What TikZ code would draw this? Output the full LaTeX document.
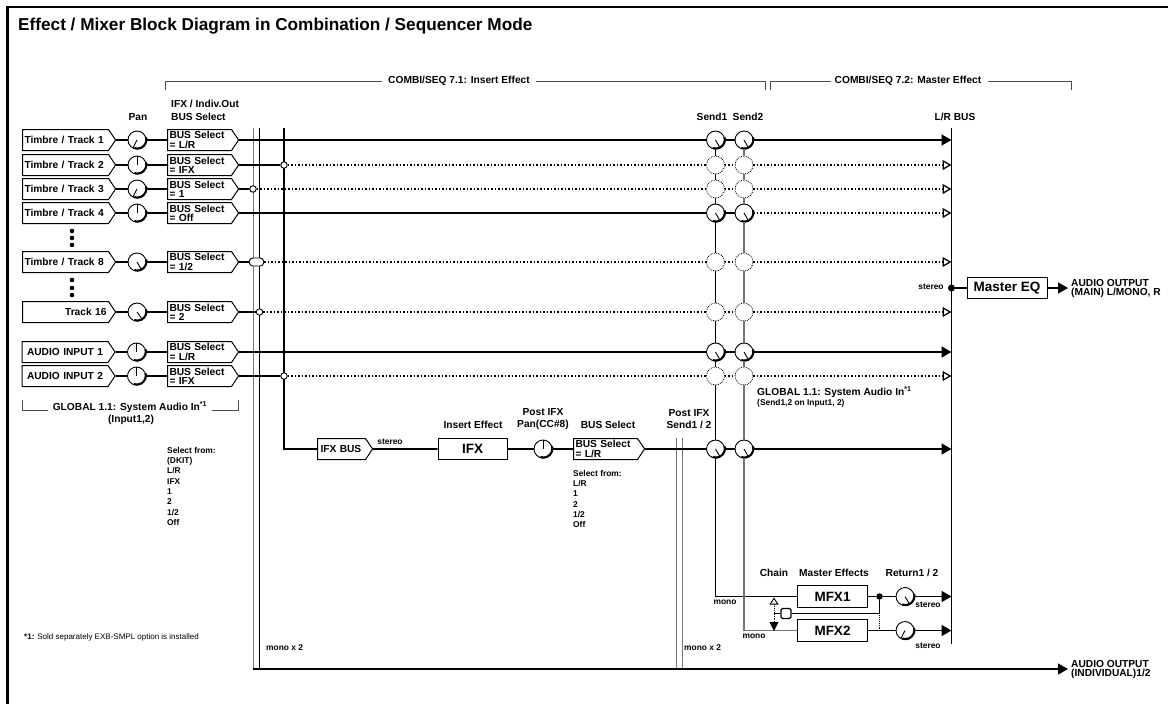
\documentclass[tikz,border=0pt]{standalone}
\usepackage{fontspec}
\setmainfont{Liberation Sans}
\usetikzlibrary{arrows.meta, positioning, shapes.symbols}

\colorlet{busgray}{black!55}
\tikzset{
  lab/.style={font=\bfseries\fontsize{10.2}{10.5}\selectfont, inner sep=0pt, align=center},
  tinylab/.style={font=\bfseries\fontsize{8.4}{10.3}\selectfont, inner sep=0pt, align=left},
  fxname/.style={font=\bfseries\fontsize{13.5}{14}\selectfont},
  sigbox/.style={draw, signal, signal to=east, signal pointer angle=112, anchor=west, minimum height=21pt, inner ysep=0pt, inner xsep=2pt, align=left, line width=1pt, font=\bfseries\fontsize{10.2}{9.2}\selectfont},
  track/.style={sigbox, text width=82pt},
  busbox/.style={sigbox, text width=60pt},
  outlab/.style={font=\bfseries\fontsize{10.2}{9}\selectfont, anchor=west, inner sep=0pt, align=left},
  fxbox/.style={draw, fxname, minimum height=21.5pt, inner sep=0pt, line width=1pt},
  knob/.style={circle, draw, fill=white, minimum size=18pt, inner sep=0pt, outer sep=0pt, line width=0.9pt},
  ghost/.style={circle, draw, fill=white, densely dotted, minimum size=18pt, inner sep=0pt, outer sep=0pt, line width=0.8pt},
  junc/.style={circle, draw, fill=white, minimum size=6.5pt, inner sep=0pt, line width=0.9pt},
  sig/.style={line width=1.6pt},
  onarrow/.style={sig, -{Triangle[length=10pt,width=11pt]}},
  offarrow/.style={line width=1.5pt, dotted, -{Triangle[open,fill=white,length=9pt,width=10pt,line width=1.3pt]}},
  offline/.style={line width=1.5pt, dotted},
  sendone/.style={line width=1.1pt},
  sendtwo/.style={line width=1.4pt, busgray},
  brk/.style={line width=0.8pt, black!70}
}
\newcommand{\knob}[3]{%
  \node[knob] (#1) at (#2) {};
  \draw[line width=0.9pt] (#1.center) -- (#1.#3);
  \draw[line width=2.1pt] ([shift={(0.4pt,0.4pt)}]#1.-110) arc (-110:15:9pt);
}

\begin{document}
\begin{tikzpicture}[x=1pt, y=-1pt]
\useasboundingbox (0,0) rectangle (1168,704);
\draw[line width=2.2pt] (7.5,704) -- (7.5,7) -- (1168,7);
\node[font=\bfseries\fontsize{17.2}{18}\selectfont, anchor=west, inner sep=0pt] (title) at (18,26) {Effect / Mixer Block Diagram in Combination / Sequencer Mode};

% brackets
\node[lab] (c71) at (459,81) {COMBI/SEQ 7.1: Insert Effect};
\node[lab] (c72) at (908,81) {COMBI/SEQ 7.2: Master Effect};
\coordinate (c71a) at (165,90);
\coordinate (c71b) at (765,90);
\coordinate (c72a) at (770,90);
\coordinate (c72b) at (1071,90);
\draw[brk] (c71a) |- ([xshift=-6pt]c71.west);
\draw[brk] ([xshift=6pt]c71.east) -| (c71b);
\draw[brk] (c72a) |- ([xshift=-4pt]c72.west);
\draw[brk] ([xshift=6pt]c72.east) -| (c72b);

% column labels
\node[lab] (lpan) at (138,117) {Pan};
\node[lab, anchor=west] (lifx) at (171,104) {IFX / Indiv.Out};
\node[lab, anchor=west] (lbus) at (171,117) {BUS Select};
\node[lab] (lsa) at (712,117) {Send1};
\node[lab] (lsb) at (748,117) {Send2};
\node[lab] (llr) at (955,117) {L/R BUS};

% sources
\node[track] (t1) at (22,140) {Timbre / Track 1};
\node[track] (t2) at (22,165) {Timbre / Track 2};
\node[track] (t3) at (22,189) {Timbre / Track 3};
\node[track] (t4) at (22,213) {Timbre / Track 4};
\node[track] (t8) at (22,262) {Timbre / Track 8};
\node[track, align=right] (t16) at (22,312) {Track 16};
\node[track] (ti1) at (21.5,352) {\hspace*{3pt}AUDIO INPUT 1};
\node[track] (ti2) at (21.5,376) {\hspace*{3pt}AUDIO INPUT 2};
\foreach \y in {231,238,245,280,288,295} \fill (72,\y) circle (2.3pt);

% pan
\knob{k1}{137,140}{243}
\knob{k2}{137,165}{90}
\knob{k3}{137,189}{243}
\knob{k4}{137,213}{90}
\knob{k8}{137,262}{-60}
\knob{k16}{137,312}{-55}
\knob{ki1}{136.5,352}{90}
\knob{ki2}{136.5,376}{90}

% bus select
\node[busbox] (b1) at (167,140) {BUS Select\\= L/R};
\node[busbox] (b2) at (167,165) {BUS Select\\= IFX};
\node[busbox] (b3) at (167,189) {BUS Select\\= 1};
\node[busbox] (b4) at (167,213) {BUS Select\\= Off};
\node[busbox] (b8) at (167,262) {BUS Select\\= 1/2};
\node[busbox] (b16) at (167,312) {BUS Select\\= 2};
\node[busbox] (bi1) at (167,352) {BUS Select\\= L/R};
\node[busbox] (bi2) at (167,376) {BUS Select\\= IFX};

% insert effect row
\node[sigbox, text width=42pt, inner xsep=3pt] (ifxbus) at (317,449) {IFX BUS};
\node[fxbox, minimum width=69pt] (ifx) at (472.5,449) {IFX};
\knob{kx}{543,449}{90}
\node[busbox] (bx) at (573,449) {BUS Select\\= L/R};
\node[lab] (lins) at (473,425) {Insert Effect};
\node[lab] (lpost) at (543,419) {Post IFX\\[1.5pt]Pan(CC\#8)};
\node[lab] (lbx) at (608,425) {BUS Select};
\node[lab] (lsnd) at (689,419) {Post IFX\\[1.5pt]Send1 / 2};
\node[tinylab] (lster) at (390,442) {stereo};

% vertical buses
\coordinate (vgray) at (253,128);
\coordinate (vdark) at (259.5,128);
\coordinate (vifx) at (284,128);
\coordinate (pa) at (676,438);
\coordinate (pb) at (682,438);
\coordinate (outb) at (1068,669);
\coordinate (lrtop) at (951.5,128);
\coordinate (lrbot) at (951.5,644);
\draw[line width=1pt, busgray] (vgray) -- (vgray |- outb);
\draw[line width=1pt] (vdark) -- (vdark |- outb);
\draw[line width=1pt, busgray] (pa) -- (pa |- outb);
\draw[line width=1pt, busgray] (pb) -- (pb |- outb);
\draw[line width=1.2pt, -{Triangle[length=10pt,width=11pt]}] (vgray |- outb) -- (outb);
\draw[line width=1.5pt] (vifx) |- (ifxbus);
\draw[line width=1.5pt] (lrtop) -- (lrbot);

% bus junctions
\node[junc] (j2) at (284,165) {};
\node[junc] (j3) at (253,189) {};
\node[draw, fill=white, rounded corners=3.6pt, minimum width=14.5pt, minimum height=8pt, inner sep=0pt, line width=0.9pt] (j8) at (256.5,262) {};
\node[junc] (j16) at (259.5,312) {};
\node[junc] (ji2) at (284,376) {};

% send knobs
\knob{sa1}{715.5,140}{-60}
\knob{sb1}{744,140}{-60}
\node[ghost] (sa2) at (715.5,165) {};
\node[ghost] (sb2) at (744,165) {};
\node[ghost] (sa3) at (715.5,189) {};
\node[ghost] (sb3) at (744,189) {};
\knob{sa4}{715.5,213}{-60}
\knob{sb4}{744,213}{-60}
\node[ghost] (sa8) at (715.5,262) {};
\node[ghost] (sb8) at (744,262) {};
\node[ghost] (sa16) at (715.5,312) {};
\node[ghost] (sb16) at (744,312) {};
\knob{sai1}{715.5,352}{-60}
\knob{sbi1}{744,352}{-60}
\node[ghost] (sai2) at (715.5,376) {};
\node[ghost] (sbi2) at (744,376) {};
\knob{sax}{715.5,449}{-60}
\knob{sbx}{744,449}{-60}

% master effects
\node[fxbox, minimum width=70pt] (mfx1) at (832.5,596.5) {MFX1};
\node[fxbox, minimum width=70pt] (mfx2) at (832.5,630.5) {MFX2};
\knob{r1}{905,596.5}{-60}
\knob{r2}{905,630.5}{243}
\node[circle, fill, minimum size=6.5pt, inner sep=0pt] (mdot) at (879.5,596.5) {};
\node[draw, fill=white, rounded corners=1.5pt, minimum size=10pt, inner sep=0pt, line width=1.1pt] (chsq) at (786,613.5) {};
\coordinate (cha) at (774,597.5);
\coordinate (chb) at (774,631);
\coordinate (chj) at (774,613.5);
\node[lab] (lchain) at (774,573) {Chain};
\node[lab] (lme) at (834,573) {Master Effects};
\node[lab] (lret) at (912,573) {Return1 / 2};
\node[tinylab] (lma) at (725,602) {mono};
\node[tinylab] (lmb) at (754,636) {mono};
\node[tinylab] (lsa1) at (928,605) {stereo};
\node[tinylab] (lsa2) at (928,646) {stereo};

% master eq
\node[circle, fill, minimum size=7pt, inner sep=0pt] (eqdot) at (951.5,288) {};
\node[fxbox, minimum width=80pt] (meq) at (1007,288) {Master EQ};
\coordinate (eqout) at (1068,288);
\node[tinylab] (lst) at (931,287) {stereo};
\node[outlab] (lout) at (1071,288) {AUDIO OUTPUT\\(MAIN) L/MONO, R};
\node[outlab] (loutb) at (1071,669) {AUDIO OUTPUT\\(INDIVIDUAL)1/2};

% tracks to bus select
\draw[sig] (t1) -- (k1) -- (b1);
\draw[sig] (t2) -- (k2) -- (b2);
\draw[sig] (t3) -- (k3) -- (b3);
\draw[sig] (t4) -- (k4) -- (b4);
\draw[sig] (t8) -- (k8) -- (b8);
\draw[sig] (t16) -- (k16) -- (b16);
\draw[sig] (ti1) -- (ki1) -- (bi1);
\draw[sig] (ti2) -- (ki2) -- (bi2);

% bus select to L/R bus
\draw[sig] (b1) -- (sa1) -- (sb1);
\draw[onarrow] (sb1) -- (sb1 -| lrtop);
\draw[sig] (b2) -- (j2);
\draw[offline] (j2) -- (sa2) -- (sb2);
\draw[offarrow] (sb2) -- (sb2 -| lrtop);
\draw[sig] (b3) -- (j3);
\draw[offline] (j3) -- (sa3) -- (sb3);
\draw[offarrow] (sb3) -- (sb3 -| lrtop);
\draw[sig] (b4) -- (sa4) -- (sb4);
\draw[offarrow] (sb4) -- (sb4 -| lrtop);
\draw[sig] (b8) -- (j8);
\draw[offline] (j8) -- (sa8) -- (sb8);
\draw[offarrow] (sb8) -- (sb8 -| lrtop);
\draw[sig] (b16) -- (j16);
\draw[offline] (j16) -- (sa16) -- (sb16);
\draw[offarrow] (sb16) -- (sb16 -| lrtop);
\draw[sig] (bi1) -- (sai1) -- (sbi1);
\draw[onarrow] (sbi1) -- (sbi1 -| lrtop);
\draw[sig] (bi2) -- (ji2);
\draw[offline] (ji2) -- (sai2) -- (sbi2);
\draw[offarrow] (sbi2) -- (sbi2 -| lrtop);

% insert row
\draw[sig] (ifxbus) -- (ifx);
\draw[sig] (ifx) -- (kx) -- (bx);
\draw[sig] (bx) -- (sax) -- (sbx);
\draw[onarrow] (sbx) -- (sbx -| lrtop);

% send columns
\draw[sendone] (sa1) -- (sa2) -- (sa3) -- (sa4) -- (sa8) -- (sa16) -- (sai1) -- (sai2) -- (sax);
\draw[sendone] (sax) |- (mfx1);
\draw[sendtwo] (sb1) -- (sb2) -- (sb3) -- (sb4) -- (sb8) -- (sb16) -- (sbi1) -- (sbi2) -- (sbx);
\draw[sendtwo] (sbx) |- (mfx2);

% returns and chain
\draw[sig] (mfx1) -- (mdot) -- (r1);
\draw[onarrow] (r1) -- (r1 -| lrtop);
\draw[sig] (mfx2) -- (r2);
\draw[onarrow] (r2) -- (r2 -| lrtop);
\draw[line width=0.9pt, densely dotted] (mdot) -- (mdot |- mfx2);
\draw[line width=0.9pt] (chsq) -| (mdot);
\draw[line width=0.9pt] (chsq) -- (chj);
\draw[line width=0.9pt, densely dotted, {Triangle[open,fill=white,length=7pt,width=9pt]}-{Triangle[length=9pt,width=9pt]}] (cha) -- (chb);

% master output
\draw[sig] (eqdot) -- (meq);
\draw[onarrow] (meq) -- (eqout);

% global notes
\node[lab] (lglob) at (130,407) {GLOBAL 1.1: System Audio In\textsuperscript{*1}};
\node[lab] (lin) at (131,420) {(Input1,2)};
\coordinate (ga) at (22,400);
\coordinate (gb) at (238.5,400);
\coordinate (gc) at (48,410);
\coordinate (gd) at (212,410);
\draw[brk] (ga) |- (gc);
\draw[brk] (gb) |- (gd);
\node[lab, anchor=west] (lglr) at (757,392) {GLOBAL 1.1: System Audio In\textsuperscript{*1}};
\node[tinylab, anchor=west] (lsend) at (757,403) {(Send1,2 on Input1, 2)};
\node[tinylab, anchor=north west] (lsel) at (167,447) {Select from:\\(DKIT)\\L/R\\IFX\\1\\2\\1/2\\Off};
\node[tinylab, anchor=north west] (lselx) at (573,470) {Select from:\\L/R\\1\\2\\1/2\\Off};
\node[tinylab, anchor=west] (lmx) at (266,648) {mono x 2};
\node[tinylab, anchor=west] (lmy) at (684,648) {mono x 2};
\node[font=\fontsize{8}{9}\selectfont, anchor=west, inner sep=0pt] (lnote) at (24,637) {\textbf{*1:} Sold separately EXB-SMPL option is installed};
\end{tikzpicture}
\end{document}
